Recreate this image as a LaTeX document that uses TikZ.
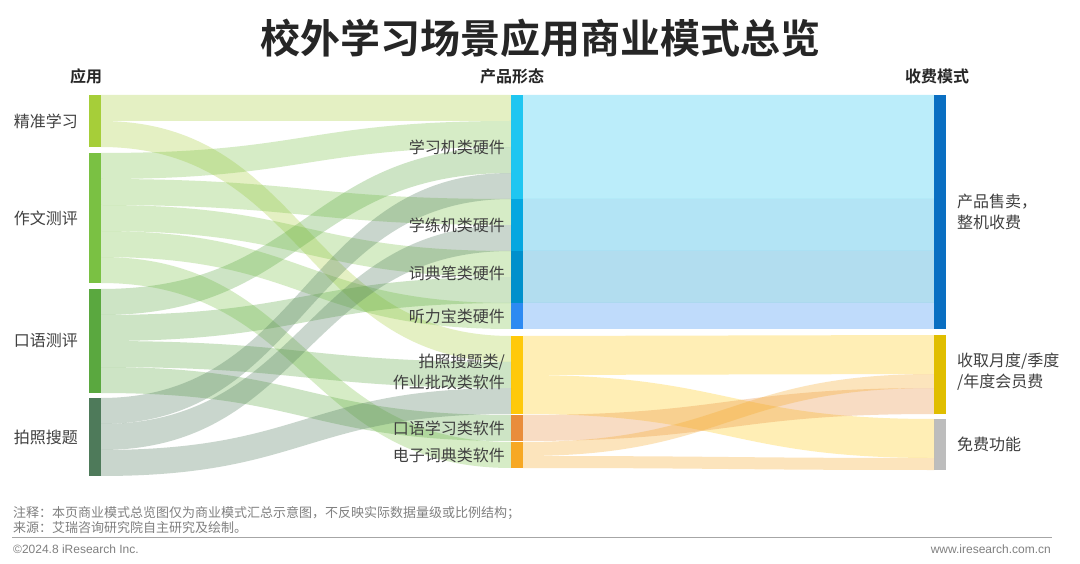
\documentclass[tikz,border=0pt]{standalone}
\usepackage{fontspec}
\setmainfont{Noto Sans CJK SC}[BoldFont={Noto Sans CJK SC Bold}]
\newfontfamily\enfont{Liberation Sans}
\usetikzlibrary{positioning}

\definecolor{txt}{HTML}{404040}
\definecolor{head}{HTML}{262626}
\definecolor{grey}{HTML}{808080}
\definecolor{cJZ}{HTML}{A6CE39}
\definecolor{cZW}{HTML}{7AC143}
\definecolor{cKY}{HTML}{5AA83F}
\definecolor{cPZ}{HTML}{4E7A5A}
\definecolor{cXXJ}{HTML}{1FC6F1}
\definecolor{cXLJ}{HTML}{05A7E0}
\definecolor{cCDB}{HTML}{0090CC}
\definecolor{cTLB}{HTML}{2D8AF2}
\definecolor{cPSW}{HTML}{FFC90A}
\definecolor{cKYX}{HTML}{E98D3B}
\definecolor{cDZC}{HTML}{F7A823}
\definecolor{cCP}{HTML}{0A6FC2}
\definecolor{cHY}{HTML}{E0BE00}
\definecolor{cMF}{HTML}{BDBDBD}

\begin{document}
\begin{tikzpicture}[x=1pt, y=-1pt,
every node/.style={inner sep=1pt, text=txt, font=\fontsize{16}{21}\selectfont},
bar/.style={rectangle, inner sep=0pt, outer sep=0pt, minimum width=12pt, anchor=north},
hdr/.style={font=\fontsize{16}{20}\selectfont\bfseries, text=head},
note/.style={font=\fontsize{13}{15}\selectfont, text=grey, anchor=west}
]
\path[use as bounding box, fill=white] (0,0) rectangle (1080,564);
%\draw[help lines, step=20] (0,0) grid (1080,564);

\node[font=\fontsize{40}{44}\selectfont\bfseries, text=head] (title) at (540,38) {校外学习场景应用商业模式总览};
\node[hdr] (hApp) at (86,76) {应用};
\node[hdr] (hProd) at (512,76) {产品形态};
\node[hdr] (hFee) at (937,76) {收费模式};

\node[bar, fill=cJZ, minimum height=52pt] (jz) at (95,95) {};
\node[bar, fill=cZW, minimum height=130pt] (zw) at (95,153) {};
\node[bar, fill=cKY, minimum height=104pt] (ky) at (95,289) {};
\node[bar, fill=cPZ, minimum height=78pt] (pz) at (95,398) {};

\node[bar, fill=cXXJ, minimum height=104pt] (xxj) at (517,95) {};
\node[bar, fill=cXLJ, minimum height=52pt] (xlj) at (517,199) {};
\node[bar, fill=cCDB, minimum height=52pt] (cdb) at (517,251) {};
\node[bar, fill=cTLB, minimum height=26pt] (tlb) at (517,303) {};
\node[bar, fill=cPSW, minimum height=78pt] (psw) at (517,336) {};
\node[bar, fill=cKYX, minimum height=26pt] (kyx) at (517,415) {};
\node[bar, fill=cDZC, minimum height=26pt] (dzc) at (517,442) {};

\node[bar, fill=cCP, minimum height=234pt] (cp) at (940,95) {};
\node[bar, fill=cHY, minimum height=79pt] (hy) at (940,335) {};
\node[bar, fill=cMF, minimum height=51pt] (mf) at (940,419) {};

\foreach \s/\a/\t/\b/\w/\c in {jz/0/xxj/0/26/cJZ, jz/26/psw/0/26/cJZ,%
    zw/0/xxj/26/26/cZW, zw/26/xlj/0/26/cZW, zw/52/cdb/0/26/cZW, zw/78/tlb/0/26/cZW, zw/104/dzc/0/26/cZW,%
    ky/0/xxj/52/26/cKY, ky/26/cdb/26/26/cKY, ky/52/psw/26/26/cKY, ky/78/kyx/0/26/cKY,%
    pz/0/xxj/78/26/cPZ, pz/26/xlj/26/26/cPZ, pz/52/psw/52/26/cPZ,%
    xxj/0/cp/0/104/cXXJ, xlj/0/cp/104/52/cXLJ, cdb/0/cp/156/52/cCDB, tlb/0/cp/208/26/cTLB,%
    psw/0/hy/0/39/cPSW, psw/39/mf/0/39/cPSW, kyx/0/hy/53/26/cKYX,%
    dzc/0/hy/39/14/cDZC, dzc/14/mf/39/12/cDZC%
    }
    \fill[fill=\c, fill opacity=.3] ([yshift=-\a]\s.north east) .. controls +(205,0) and +(-205,0) .. ([yshift=-\b]\t.north west)
        -- ([yshift=-\b-\w]\t.north west) .. controls +(-205,0) and +(205,0) .. ([yshift=-\a-\w]\s.north east) -- cycle;

\node[left=10pt of jz] (lJZ) {精准学习};
\node[left=10pt of zw] (lZW) {作文测评};
\node[left=10pt of ky] (lKY) {口语测评};
\node[left=10pt of pz] (lPZ) {拍照搜题};

\node[left=5pt of xxj] (lXXJ) {学习机类硬件};
\node[left=5pt of xlj] (lXLJ) {学练机类硬件};
\node[left=5pt of cdb, yshift=4pt] (lCDB) {词典笔类硬件};
\node[left=5pt of tlb] (lTLB) {听力宝类硬件};
\node[left=5pt of psw, align=right, yshift=3pt] (lPSW) {拍照搜题类/\\作业批改类软件};
\node[left=5pt of kyx] (lKYX) {口语学习类软件};
\node[left=5pt of dzc] (lDZC) {电子词典类软件};

\node[right=10pt of cp, align=left] (lCP) {产品售卖，\\整机收费};
\node[right=10pt of hy, align=left, yshift=3pt] (lHY) {收取月度/季度\\/年度会员费};
\node[right=10pt of mf] (lMF) {免费功能};

\node[note] (n1) at (12,513) {注释：本页商业模式总览图仅为商业模式汇总示意图，不反映实际数据量级或比例结构；};
\node[note] (n2) at (12,528) {来源：艾瑞咨询研究院自主研究及绘制。};
\draw[grey!70, line width=0.8pt] (12,537) -- (1052,537);
\node[note, font=\enfont\fontsize{12}{14}\selectfont] (copy) at (12,549) {©2024.8 iResearch Inc.};
\node[note, anchor=east, font=\enfont\fontsize{12}{14}\selectfont] (web) at (1052,549) {www.iresearch.com.cn};
\end{tikzpicture}
\end{document}
